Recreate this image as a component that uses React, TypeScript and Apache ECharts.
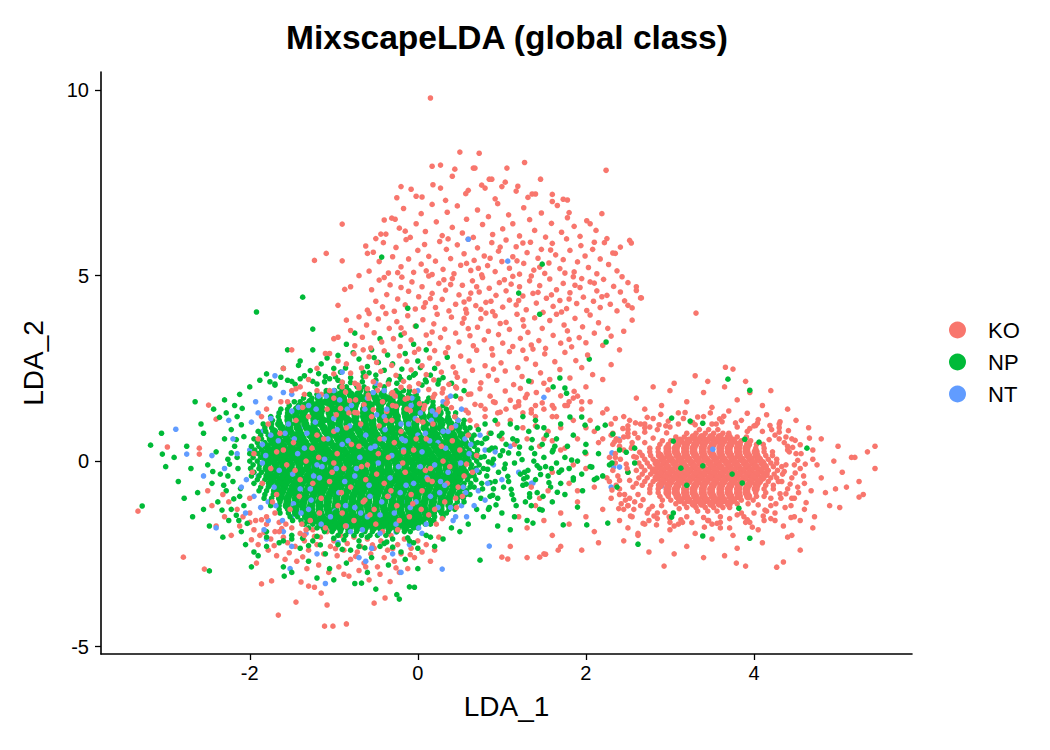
import React, { useEffect, useRef } from "react";
import * as echarts from "echarts";

// All coordinates are in hundredths of LDA units.
// Dense cores are listed as rows: [y, x1, x2, ...]
const NP_CORE_ROWS = [
  [200,-93,-85,-72,-64,-51,-40],
  [190,-109,-99,-90,-82,-68,-61,-49,-40,-26,-17,-10],
  [180,-129,-120,-108,-99,-92,-80,-71,-60,-53,-42,-30,-23,-11,-2],
  [170,-136,-126,-118,-105,-96,-89,-78,-67,-61,-50,-38,-31,-19,-8,0,13],
  [160,-147,-140,-128,-117,-109,-100,-88,-79,-73,-60,-49,-42,-31,-20,-11,-1,11,18],
  [150,-153,-142,-134,-122,-116,-104,-93,-86,-75,-63,-56,-45,-33,-26,-14,-3,6,18,30],
  [140,-163,-155,-144,-133,-126,-114,-104,-97,-85,-76,-64,-57,-45,-34,-27,-15,-3,5,17,26,34],
  [130,-165,-155,-145,-136,-124,-116,-105,-94,-87,-75,-64,-57,-45,-35,-27,-15,-4,4,17,26,36,45],
  [120,-175,-166,-154,-145,-136,-124,-116,-104,-93,-86,-74,-64,-56,-44,-35,-25,-14,-6,6,15,24,36,44],
  [110,-173,-165,-154,-143,-135,-123,-113,-105,-93,-83,-75,-63,-54,-44,-33,-25,-13,-3,6,18,27,36,48,55],
  [100,-184,-174,-165,-153,-144,-134,-123,-115,-103,-94,-84,-72,-63,-54,-42,-33,-22,-12,-3,9,18,28,39,47,54],
  [90,-182,-174,-162,-153,-143,-132,-124,-112,-103,-93,-82,-74,-62,-53,-43,-32,-24,-12,-3,8,19,27,39,48,56,62],
  [80,-190,-181,-171,-160,-152,-141,-130,-121,-110,-101,-90,-81,-70,-60,-52,-40,-31,-21,-10,-1,11,19,30,40,49,58],
  [70,-187,-178,-169,-158,-148,-139,-128,-119,-107,-98,-88,-79,-68,-57,-49,-38,-28,-18,-7,1,13,22,33,42,52,61,67],
  [60,-195,-186,-175,-166,-156,-145,-137,-125,-116,-106,-95,-87,-76,-66,-56,-46,-35,-27,-15,-6,4,15,24,35,44,54,64],
  [50,-191,-182,-173,-163,-152,-143,-134,-123,-113,-104,-93,-84,-73,-64,-53,-44,-33,-24,-13,-4,7,16,27,36,47,56,65,71],
  [40,-198,-189,-180,-169,-160,-150,-140,-131,-120,-111,-100,-91,-80,-71,-60,-51,-40,-31,-20,-11,0,9,20,29,40,49,58,67],
  [30,-194,-186,-176,-167,-156,-147,-137,-128,-117,-108,-97,-88,-78,-68,-57,-48,-37,-28,-18,-8,3,12,22,32,43,52,61,71],
  [20,-200,-190,-182,-171,-163,-153,-143,-134,-124,-114,-104,-95,-85,-74,-64,-55,-44,-35,-25,-14,-4,5,15,26,35,45,55,64,70],
  [10,-196,-187,-178,-168,-159,-149,-140,-130,-120,-111,-101,-91,-81,-72,-61,-52,-42,-32,-22,-12,-2,8,18,28,38,48,58,67,75],
  [0,-200,-191,-181,-172,-162,-153,-143,-134,-124,-115,-105,-95,-85,-76,-66,-56,-46,-37,-27,-17,-8,2,12,22,32,42,52,61,70],
  [-10,-196,-188,-179,-169,-160,-151,-141,-131,-122,-112,-102,-93,-83,-73,-64,-54,-44,-35,-25,-15,-5,5,15,25,34,44,54,64,73],
  [-20,-199,-189,-180,-170,-161,-151,-141,-132,-122,-112,-103,-93,-83,-74,-64,-54,-45,-35,-25,-15,-6,4,14,24,34,44,53,63,69],
  [-30,-195,-186,-177,-167,-158,-148,-139,-129,-119,-110,-100,-91,-81,-71,-62,-52,-42,-33,-23,-13,-3,6,16,26,36,46,56,66,73],
  [-40,-198,-189,-179,-170,-160,-151,-141,-131,-122,-112,-103,-93,-83,-74,-64,-54,-45,-35,-25,-16,-6,4,14,23,33,43,52,62,67],
  [-50,-191,-182,-173,-163,-154,-144,-135,-125,-115,-106,-96,-87,-77,-67,-58,-48,-39,-29,-19,-10,0,10,20,29,39,49,59,69],
  [-60,-195,-185,-176,-166,-157,-147,-138,-128,-118,-109,-99,-90,-80,-70,-61,-51,-42,-32,-22,-13,-3,7,16,26,36,46,55,63],
  [-70,-187,-178,-168,-159,-149,-140,-130,-120,-111,-101,-92,-82,-72,-63,-53,-44,-34,-24,-15,-5,4,14,24,33,43,53,62,67],
  [-80,-189,-180,-170,-161,-151,-142,-132,-122,-113,-103,-94,-84,-74,-65,-55,-46,-36,-26,-17,-7,2,12,22,31,41,50,58],
  [-90,-182,-172,-163,-153,-144,-134,-124,-115,-105,-96,-86,-76,-67,-57,-48,-38,-28,-19,-9,0,10,20,29,39,49,57,62],
  [-100,-183,-174,-164,-155,-145,-135,-126,-116,-107,-97,-87,-78,-68,-59,-49,-39,-30,-20,-11,-1,9,18,28,37,47,54],
  [-110,-174,-164,-155,-145,-136,-126,-117,-107,-97,-88,-78,-69,-59,-49,-40,-30,-21,-11,-1,8,18,28,37,47,55],
  [-120,-175,-165,-156,-146,-137,-127,-117,-108,-98,-89,-79,-69,-60,-50,-41,-31,-21,-12,-2,7,17,27,36,44],
  [-130,-165,-155,-146,-136,-127,-117,-107,-98,-88,-79,-69,-59,-50,-40,-31,-21,-11,-2,8,17,27,37,44],
  [-140,-164,-154,-145,-135,-126,-116,-106,-97,-87,-78,-68,-58,-49,-39,-30,-20,-10,-1,9,18,28,34],
  [-150,-152,-143,-133,-124,-114,-104,-95,-85,-76,-66,-56,-47,-37,-28,-18,-8,1,11,20,30],
  [-160,-149,-139,-130,-120,-110,-101,-91,-82,-72,-62,-53,-43,-34,-24,-14,-5,5,15,19],
  [-170,-135,-125,-116,-106,-97,-87,-77,-68,-58,-49,-39,-30,-20,-10,-1,9,15],
  [-180,-130,-120,-111,-101,-92,-82,-72,-63,-53,-44,-34,-25,-15,-5,0],
  [-190,-111,-102,-92,-83,-73,-63,-54,-44,-35,-25,-16,-9],
  [-200,-95,-86,-76,-67,-57,-48,-38],
];

// Other NP cells as [x, y, x, y, ...]
const NP_PTS = [
  // left halo
  -215,120,-222,85,-230,60,-218,40,-240,25,-226,5,-250,-10,-214,-20,-235,-35,-220,-55,-245,-60,-228,-80,-212,-95,-238,-110,
  -222,-130,-255,-130,-262,-85,-270,-20,-275,40,-258,100,-243,140,-230,165,-212,180,-268,-150,-248,-175,-225,-160,-210,-190,
  -285,-55,-290,10,-300,-15,-255,75,-278,-100,-232,-205,-205,-225,-195,-245,-265,160,-305,75,-328,-121,-318,43,-304,19,
  -209,142,-207,66,-211,-74,-216,-146,-203,-168,-236,118,-244,-28,-233,-132,
  -226,-40,-222,22,-219,-102,-216,58,-213,-160,-210,98,-228,130,-231,-65,-224,-8,-218,150,-207,-120,-215,10,
  // top halo
  -170,205,-150,215,-135,230,-120,208,-105,222,-92,240,-80,212,-65,228,-50,218,-40,245,-25,210,-10,225,5,205,15,232,
  -160,250,-140,270,-115,262,-95,285,-70,275,-55,300,-30,262,-15,290,0,270,20,250,30,225,-180,235,-125,300,-85,315,
  -45,330,-5,315,-200,200,-60,255,-100,250,10,300,40,210,35,280,55,190,45,175,-155,300,-75,345,-20,340,
  -176,214,-163,226,-146,207,-128,244,-111,214,-98,227,-86,251,-73,205,-58,238,-47,266,-34,219,-19,248,-3,236,
  9,219,24,208,-142,258,-118,236,-77,292,-36,286,-66,214,3,252,-108,278,-52,279,-188,218,-90,212,-22,228,
  -170,208,-140,222,-110,228,-80,225,-50,232,-20,220,10,214,-155,218,-125,215,-95,218,-65,240,-35,213,-5,232,25,218,
  -192,402,-137,442,-125,356,-12,412,-2,364,-43,550,120,453,145,396,148,531,204,275,224,321,
  // bottom halo
  -180,-205,-165,-220,-150,-200,-140,-235,-125,-215,-110,-250,-95,-225,-80,-240,-70,-215,-55,-260,-45,-230,-30,-210,
  -20,-245,-5,-220,10,-200,20,-230,-130,-270,-105,-290,-85,-275,-60,-300,-35,-280,-15,-265,-190,-255,-160,-285,
  0,-290,-120,-315,-75,-330,-25,-360,-22,-372,-50,-345,-100,-320,-150,-300,30,-210,-180,-230,-159,-310,-198,-285,
  -248,-296,74,-267,-10,-339,-67,-329,-4,-340,-137,-208,-116,-226,-88,-212,-63,-234,-37,-218,-12,-207,
  -180,-190,-160,-215,-130,-228,-100,-208,-70,-230,-40,-222,-10,-215,15,-205,-150,-210,-120,-203,-90,-238,-60,-205,
  -30,-232,0,-235,
  // right extension
  80,60,85,30,88,-5,82,-40,90,-75,95,-100,100,75,105,45,98,15,103,-20,108,-55,112,-90,118,55,120,20,115,-5,
  122,-35,125,-65,128,-110,132,80,135,35,138,0,131,-25,140,-50,142,-85,148,45,150,10,152,-15,155,-40,158,-70,
  145,-130,160,25,165,-5,168,-30,170,-60,175,10,180,-20,185,-45,190,0,195,-35,205,-15,210,-50,215,20,220,-40,
  228,-10,92,110,110,100,125,120,140,110,150,90,165,60,178,40,75,-100,85,-125,100,-140,115,-150,130,-160,70,-130,
  78,-150,60,-170,50,-190,40,-180,95,-175,110,-185,240,30,250,-30,258,-5,200,45,185,70,170,100,196,-80,175,-90,160,-110,
  72,85,76,48,79,12,83,-22,86,-58,89,-92,93,-118,97,68,101,28,104,-8,107,-41,111,-76,114,-104,118,90,121,38,124,4,
  127,-30,129,-62,133,-88,136,58,139,20,142,-12,146,-36,149,-95,153,70,156,-58,159,-20,163,40,166,-84,84,-2,96,-30,
  108,22,117,-120,92,35,126,-48,102,-70,77,-75,113,60,135,-120,142,92,
  78,-20,82,62,86,-95,88,35,92,-55,80,100,84,-130,90,5,76,-60,87,75,
  175,197,177,183,132,216,161,200,169,224,195,119,199,97,181,119,214,89,223,97,232,73,207,-16,213,-46,231,-5,
  237,-70,226,-167,201,-172,173,-172,190,-124,185,-51,171,-24,183,3,199,24,161,30,145,-19,130,-43,133,-97,148,-132,137,-167,
  // inside the KO cluster on the right
  369,221,395,191,302,116,324,108,339,102,389,59,406,51,463,35,304,54,313,-19,339,-13,374,-35,386,-59,320,-65,
  382,-127,304,-140,302,-151,339,-202,395,-208,262,-224,258,35,248,24,
];

const KO_CORE_ROWS = [
  [85,335,346,357],
  [75,320,331,342,352,363,370],
  [65,307,317,328,338,349,359,370,380,391],
  [55,291,301,312,322,333,343,354,364,375,385,396],
  [45,288,298,309,319,330,340,351,361,372,382,393,403,411],
  [35,276,286,297,307,318,328,339,349,360,370,381,391,402,412],
  [25,276,286,297,307,318,328,339,349,360,370,381,391,402,412,422],
  [15,267,277,288,298,309,319,330,340,351,361,372,382,393,403,414,422],
  [5,270,280,291,301,312,322,333,343,354,364,375,385,396,406,417,427],
  [-5,263,273,284,294,305,315,326,336,347,357,368,378,389,399,410,420,427],
  [-15,266,276,287,297,308,318,329,339,350,360,371,381,392,402,413,423,433],
  [-25,260,270,281,291,302,312,323,333,344,354,365,375,386,396,407,417,428],
  [-35,267,277,288,298,309,319,330,340,351,361,372,382,393,403,414,424,434],
  [-45,263,273,284,294,305,315,326,336,347,357,368,378,389,399,410,420,427],
  [-55,270,280,291,301,312,322,333,343,354,364,375,385,396,406,417,429],
  [-65,267,277,288,298,309,319,330,340,351,361,372,382,393,403,414,423],
  [-75,276,286,297,307,318,328,339,349,360,370,381,391,402,412,423],
  [-85,276,286,297,307,318,328,339,349,360,370,381,391,402,414],
  [-95,288,298,309,319,330,340,351,361,372,382,393,403,412],
  [-105,291,301,312,322,333,343,354,364,375,385,399],
  [-115,307,317,328,338,349,359,370,380,393],
  [-125,320,331,342,352,363,371],
  [-135,333,345,356],
];

const KO_PTS = [
  // lower edge of the left blob
  -215,-130,-208,-150,-200,-165,-212,-175,-195,-185,-188,-200,-180,-170,-175,-210,-170,-190,-165,-165,-160,-205,
  -155,-220,-150,-180,-146,-230,-140,-195,-135,-215,-130,-240,-125,-185,-120,-225,-116,-205,-112,-250,-108,-190,
  -104,-230,-100,-215,-96,-255,-92,-200,-88,-240,-84,-222,-80,-265,-76,-205,-72,-245,-68,-230,-64,-275,-60,-210,
  -56,-250,-52,-235,-48,-285,-44,-215,-40,-260,-36,-240,-32,-200,-28,-270,-24,-225,-20,-250,-16,-210,-12,-290,
  -8,-235,-4,-260,0,-215,5,-245,10,-225,15,-270,20,-240,25,-205,-190,-225,-178,-240,-168,-255,-158,-265,-144,-270,
  -132,-290,-118,-280,-106,-300,-94,-285,-82,-310,-70,-295,-58,-320,-45,-305,-33,-325,-22,-300,-200,-140,-225,-110,
  -230,-150,-240,-175,-222,-200,-232,-90,-245,-120,-250,-80,-183,-192,-171,-228,-153,-247,-137,-258,-123,-203,
  -98,-236,-74,-257,-54,-226,-30,-236,-9,-252,-186,-158,-198,-212,-162,-182,
  // outliers around the left blob
  -333,-135,-298,38,-260,19,-260,35,-249,151,-240,113,-279,-259,-254,-291,-174,-323,-145,-380,-108,-388,-166,-415,
  -111,-445,-101,-445,-85,-439,-52,-383,-39,-369,-115,-356,-123,-340,-130,-337,-139,-326,-186,-331,-192,-275,
  -88,-305,-62,-285,-26,-288,100,-259,107,-264,145,-259,152,-251,167,-240,-87,463,-95,334,
  // upper cluster
  5,712,18,745,33,703,41,768,57,721,66,790,80,736,92,707,104,752,117,728,131,711,146,760,160,719,178,704,-8,733,
  15,979,50,833,73,830,127,805,106,790,88,760,224,784,17,795,27,798,44,787,68,790,
  -38,612,-31,655,-22,628,-17,681,-9,603,-2,640,4,667,9,619,17,692,22,645,29,608,35,671,41,630,47,688,53,615,
  58,652,66,603,71,677,77,638,84,659,89,611,95,694,101,626,108,664,113,640,121,607,126,683,133,651,139,622,
  147,669,152,604,159,641,166,689,171,617,178,656,186,633,193,606,201,648,212,622,219,667,
  -58,512,-53,563,-46,538,-41,589,-35,507,-30,551,-26,576,-20,524,-14,597,-11,545,-5,509,0,568,4,531,8,584,
  13,552,17,503,21,539,26,592,30,517,34,571,39,546,43,505,47,583,51,528,55,559,60,598,63,514,67,541,71,575,
  76,502,79,553,83,527,88,589,92,511,96,566,100,538,105,596,109,520,113,551,117,578,121,504,126,533,130,562,
  134,590,138,515,143,547,147,571,151,506,156,534,160,587,164,556,169,519,173,543,177,599,181,568,186,510,
  190,537,194,581,199,553,203,522,208,571,213,505,217,545,222,589,227,530,232,561,237,513,241,577,-62,580,
  10,513,58,533,86,547,125,588,145,523,175,507,36,599,72,520,118,540,158,569,210,590,-24,508,98,577,
  -60,407,-55,462,-50,431,-46,488,-42,416,-37,449,-33,475,-28,404,-24,437,-19,496,-15,421,-11,458,-7,483,
  -3,410,1,443,5,470,9,427,13,499,17,452,21,414,25,479,29,436,33,461,37,405,41,492,45,423,49,448,53,474,
  57,409,61,437,65,486,69,419,73,456,77,495,81,428,85,466,89,403,93,447,97,481,101,415,105,459,109,434,
  113,498,117,421,121,470,125,445,129,408,133,486,137,452,141,426,145,473,149,401,153,439,157,491,161,417,
  165,462,169,433,173,479,177,411,181,454,185,497,189,425,193,468,197,442,201,406,205,483,209,431,213,459,
  217,414,221,490,225,447,229,423,233,471,237,405,241,456,246,432,250,481,255,413,260,460,266,440,-20,468,
  7,415,39,476,63,453,87,431,111,477,143,455,171,402,195,492,219,443,31,489,75,409,135,499,159,448,187,474,
  103,489,55,429,-40,495,243,497,120,433,180,437,70,470,15,438,
  -80,352,-75,311,-70,389,-66,334,-61,367,-56,305,-52,346,-47,383,-43,321,-38,398,-34,358,-29,330,-25,376,
  -21,309,-16,345,-12,392,-8,327,-3,364,1,302,6,381,10,340,14,317,19,370,23,396,27,333,32,356,36,306,40,388,
  45,345,49,321,53,372,58,399,62,338,66,311,71,361,75,384,79,327,84,350,88,303,92,392,96,341,101,318,105,374,
  109,355,113,309,118,396,122,331,126,364,131,347,135,313,139,386,144,325,148,358,152,304,157,379,161,339,
  165,396,170,318,174,367,178,351,183,308,187,385,192,333,196,362,200,319,205,394,210,345,215,373,220,312,
  226,358,230,337,-58,398,-20,359,17,348,55,385,98,371,137,302,180,328,81,399,125,381,60,357,
  -90,213,-85,262,-80,237,-76,289,-71,205,-67,251,-62,228,-58,281,-53,214,-49,266,-44,242,-40,297,-35,208,
  -31,258,-26,231,-22,284,-17,215,-13,269,-8,246,-4,293,1,209,5,257,10,233,14,278,19,219,24,263,28,240,
  33,292,37,207,42,254,47,226,51,283,56,216,61,270,65,245,70,299,75,211,80,257,84,230,89,286,94,218,99,265,
  104,243,109,295,114,206,119,252,124,228,129,276,135,214,140,261,146,238,151,289,157,220,163,268,169,247,
  175,293,181,224,188,271,195,252,202,286,-95,270,-100,235,-105,290,-65,300,20,298,90,248,150,210,208,233,
  45,238,125,299,
  -92,142,-86,186,-81,163,-75,131,-70,197,-64,152,-59,178,-53,139,-48,191,-42,160,-37,134,-31,182,-26,148,
  -20,199,-15,167,-9,136,-4,188,2,155,7,141,13,193,18,172,24,133,29,184,35,159,40,144,46,197,51,168,57,137,
  63,181,68,153,74,195,80,140,86,175,92,158,98,132,104,189,110,164,116,146,122,196,128,171,135,139,141,185,
  148,157,155,192,162,143,170,176,178,150,186,188,195,160,-100,170,
  // halo of the upper cluster
  -90,540,-80,470,-95,420,-85,380,-100,330,-110,290,-120,250,-130,220,-140,200,-115,180,250,420,255,380,245,350,
  240,300,230,260,220,220,200,200,185,170,160,150,140,120,210,480,260,470,265,440,235,560,225,600,205,640,180,670,
  160,700,140,720,-25,710,-40,650,-50,600,-60,560,-70,500,120,160,95,130,130,180,-20,740,60,730,100,740,85,760,
  -150,300,-160,250,-145,195,-90,639,-109,560,-123,541,-44,612,-27,652,-15,620,-2,714,27,736,76,744,119,741,
  136,720,173,706,254,588,331,399,252,595,
  // right of the left blob
  60,180,75,150,90,160,105,140,120,150,135,130,150,140,165,120,80,120,95,100,110,110,125,90,140,95,155,80,170,90,
  60,130,70,95,85,75,100,60,115,45,130,60,145,40,160,55,175,35,190,60,200,20,210,80,185,110,195,140,180,160,
  205,110,220,60,230,100,240,40,250,75,225,140,245,120,260,10,270,50,35,170,45,200,20,180,30,195,-10,200,-30,185,
  -45,205,-60,195,-75,210,-90,200,-105,190,-120,190,-135,180,
  // between the two lower clusters
  120,-150,130,-180,140,-120,150,-160,160,-200,170,-140,180,-170,190,-110,200,-150,210,-190,220,-130,230,-100,
  240,-160,250,-120,170,-230,195,-240,215,-220,150,-250,130,-260,110,-230,125,130,140,150,160,120,175,150,190,175,
  205,160,220,130,235,115,250,95,180,-60,190,-80,200,-20,210,-70,225,-45,235,10,240,-75,250,-30,255,40,230,70,
  215,50,200,90,185,-10,170,30,160,-30,150,60,135,-70,145,-100,155,-80,
  // ring and halo of the right cluster
  235,20,238,-40,240,-90,236,60,250,-120,258,75,270,90,285,-140,300,-155,320,-150,340,-152,360,-150,380,-145,
  400,-140,420,-120,432,-100,440,-75,445,-45,448,-10,442,25,436,50,425,70,410,80,395,88,380,92,300,92,285,85,
  270,78,255,50,245,30,275,-130,265,-120,415,-135,440,30,430,60,310,100,330,98,350,100,260,-60,262,-90,444,-120,
  448,-150,425,-160,275,-160,310,-170,350,-170,395,-165,248,-8,252,-52,257,12,280,62,296,76,392,80,418,58,
  433,-55,436,-28,431,-88,405,-118,290,-120,268,-104,
  232,-25,236,-65,241,5,247,-105,254,35,262,63,273,-140,287,98,299,-150,313,-158,327,104,346,-160,362,106,371,-155,
  388,-150,402,96,413,-132,426,-115,438,-88,443,-62,449,-32,452,2,446,37,438,65,421,85,404,102,392,-158,232,45,
  228,-55,257,-130,281,-148,359,114,316,115,453,-85,455,44,430,78,276,92,242,-115,411,-148,461,-8,
  228,10,231,-78,234,52,239,-128,244,88,249,-20,253,-148,256,-70,259,103,264,24,268,-168,273,118,279,-122,284,-172,
  289,126,294,-138,298,108,305,-175,311,-128,318,131,326,-166,333,119,341,-178,348,130,356,-168,364,121,371,-180,
  378,103,385,-140,392,129,398,-178,405,112,412,-160,419,96,425,-140,431,106,437,-125,441,82,445,-100,449,56,
  452,-70,456,20,459,-40,462,-112,466,62,438,-10,444,-152,235,-5,240,-52,232,75,246,-90,258,-110,300,-165,
  360,-165,420,-100,440,40,430,90,270,100,250,66,470,5,468,-80,
  265,100,280,115,295,95,310,130,325,105,340,120,355,100,370,135,385,110,400,95,415,125,430,100,290,150,320,160,
  350,145,380,165,410,150,270,140,300,190,340,185,365,200,395,185,375,248,366,253,390,215,330,230,260,170,440,140,
  450,110,305,210,420,190,280,200,345,215,
  445,60,450,20,455,-20,460,-60,448,-100,465,90,470,30,475,-10,480,-45,485,-85,490,-120,472,-150,495,0,500,40,
  505,-30,510,-70,460,-130,520,10,525,-55,530,-90,544,40,544,-20,525,-97,516,10,502,-125,480,60,470,-180,455,-160,
  445,-200,497,-75,535,25,
  255,-150,270,-170,285,-155,300,-185,315,-165,330,-195,345,-160,360,-180,375,-200,390,-165,405,-185,420,-155,
  435,-175,262,-200,290,-215,320,-230,350,-210,380,-235,410,-220,440,-205,293,-283,379,-275,390,-283,427,-286,
  435,-272,275,-245,245,-215,305,-250,340,-260,365,-255,455,-240,262,-195,250,-180,245,-130,252,-100,250,85,
  245,65,240,55,252,110,
  // scattered through the left blob
  -190,60,-175,-20,-168,-90,-160,30,-152,-130,-145,110,-140,-50,-133,0,-128,-160,-120,70,-115,-100,-108,140,-102,-30,
  -96,20,-90,-140,-85,90,-80,-70,-74,165,-70,40,-65,-110,-60,-10,-55,120,-50,-170,-45,60,-40,-60,-35,10,-30,150,
  -25,-120,-20,80,-15,-30,-10,-150,-5,30,0,110,5,-80,10,60,15,-20,20,-130,25,140,30,0,35,-60,40,90,45,-100,50,30,
  55,-40,60,70,-185,-60,-178,100,-170,-140,-163,160,-156,-10,-148,50,-138,-170,-130,120,-125,-60,-118,10,-110,-180,
  -100,80,-95,-120,-88,-20,-82,130,-76,-160,-68,100,-62,-50,-58,170,-52,-130,-47,20,-42,-190,-38,110,-32,-80,-28,50,
  -22,-160,-18,-5,-12,170,-8,-90,-2,60,4,-130,8,150,12,-50,18,100,22,-170,28,40,32,-110,38,-15,44,120,48,-70,65,-30,
  70,15,-200,-100,-195,20,-180,140,-165,-190,-150,190,-135,-200,
  -197,-30,-186,120,-173,-110,-164,75,-157,-170,-146,-25,-137,145,-126,35,-117,-140,-105,-55,-97,125,-86,-175,
  -79,45,-67,-15,-57,-145,-46,95,-36,-95,-27,175,-17,25,-6,-115,6,105,17,-55,29,-155,41,55,53,-95,62,110,
  -180,-150,-155,160,-141,-95,-112,60,-91,-85,-72,130,-49,-35,-24,-185,-13,140,9,-25,34,155,-193,-160,-168,25,
  -133,-185,-100,-5,-63,-105,-31,110,13,-145,46,-125,58,-8,
];

const NT_PTS = [
  -200,30,-190,-40,-185,80,-178,-110,-172,10,-165,130,-160,-60,-155,50,-150,-150,-145,0,-140,90,-136,-90,-130,150,
  -126,-20,-120,40,-116,-130,-110,110,-106,-60,-100,10,-96,-170,-92,70,-88,-30,-84,140,-80,-100,-76,30,-72,-150,
  -68,90,-64,-50,-60,170,-56,0,-52,-120,-48,60,-44,-80,-40,120,-36,-20,-32,-160,-28,40,-24,-60,-20,100,-16,-110,
  -12,10,-8,150,-4,-40,0,70,4,-140,8,20,12,-80,16,110,20,-30,24,50,28,-100,32,0,36,80,40,-60,44,30,48,-20,52,-120,
  56,60,60,-40,66,10,72,-80,80,30,90,-10,100,-50,110,40,120,-30,135,-60,-210,-70,-220,60,-230,-20,-245,15,-255,-40,
  -225,110,-288,86,-275,19,-240,-180,-180,-210,-150,-230,-120,-250,-95,-220,-70,-260,-55,-235,-30,-250,-10,-225,
  -62,-270,-110,-330,-152,-290,85,-229,29,-291,-26,-191,-82,-160,-100,190,-50,210,-150,180,-170,230,-90,240,0,190,
  60,598,107,539,137,-59,150,172,233,-16,239,59,231,22,240,-16,290,-67,230,-70,-20,-300,45,-150,5,-195,351,32,
  -195,-95,-185,45,-175,115,-165,-25,-158,75,-148,-115,-142,145,-135,35,-128,-75,-122,105,-114,-15,-107,60,-99,-135,
  -93,165,-87,-55,-81,95,-75,-125,-69,10,-63,140,-57,-95,-51,40,-45,-145,-39,85,-33,-45,-27,175,-21,-85,-15,55,
  -9,-125,-3,115,3,-15,9,75,15,-95,21,125,27,-55,33,35,39,-125,45,95,51,-5,57,-85,63,45,-190,130,-178,-160,
  -160,-190,-118,175,-80,-190,-40,190,10,-170,30,160,-205,-140,-215,20,
  -198,105,-187,-125,-181,15,-176,170,-171,-70,-166,55,-161,-160,-154,100,-149,-35,-143,20,-139,-140,-132,75,
  -127,-105,-121,140,-117,-45,-111,5,-104,-150,-100,115,-94,-85,-90,45,-85,-175,-79,150,-73,-20,-68,-140,-62,70,
  -58,-65,-53,185,-47,-5,-43,-110,-37,140,-31,15,-26,-170,-19,60,-14,-65,-7,170,-2,-110,5,25,11,-45,17,135,
  24,-125,30,80,36,-30,42,-160,48,110,54,-70,61,20,67,-120,74,70,83,-60,92,25,-204,-50,-193,160,-183,-185,
  -169,-120,-147,60,-133,-195,-124,-40,-109,175,-97,-20,-83,55,-66,-185,-49,125,-35,-95,-23,-15,-11,100,1,-180,
  14,55,26,-85,39,175,58,-150,-185,-5,-150,135,-115,-170,-86,-120,-56,35,-28,-140,3,130,32,-65,70,-25,-140,-75,
  -96,85,-60,-150,-17,30,20,-10,-175,70,-120,-10,-75,-40,-40,60,-5,-60,-160,185,-130,-130,-45,-195,52,140,80,-105,
];

const CLASS_NAMES = ["KO", "NP", "NT"];
const CLASS_COLORS = ["#F8766D", "#00BA38", "#619CFF"];
const X_TICKS = [-2, 0, 2, 4];
const Y_TICKS = [-5, 0, 5, 10];

// returns [x, y, isInterior]
function rowsToPairs(rows: number[][]): number[][] {
  const out: number[][] = [];
  rows.forEach((r, ri) => {
    for (let i = 1; i < r.length; i++) {
      const edge = i <= 2 || i >= r.length - 2 || ri <= 1 || ri >= rows.length - 2;
      out.push([r[i] / 100, r[0] / 100, edge ? 0 : 1]);
    }
  });
  return out;
}

function flatToPairs(a: number[]): number[][] {
  const out: number[][] = [];
  for (let i = 0; i + 1 < a.length; i += 2) out.push([a[i] / 100, a[i + 1] / 100, 0]);
  return out;
}

function buildData(): number[][] {
  // [points, class index, share of the drawing order the group is spread over]
  const groups: [number[][], number, number][] = [
    [rowsToPairs(KO_CORE_ROWS), 0, 1],
    [flatToPairs(KO_PTS), 0, 1],
    [rowsToPairs(NP_CORE_ROWS), 1, 0.55],
    [flatToPairs(NP_PTS), 1, 1],
    [flatToPairs(NT_PTS), 2, 1],
  ];
  const items: { key: number; v: number[] }[] = [];
  groups.forEach(([pts, ci, span], gi) => {
    const n = pts.length;
    pts.forEach((p, i) =>
      items.push({ key: ((i + 0.5 + gi * 0.23) / n) * span, v: [p[0], p[1], ci, p[2]] })
    );
  });
  items.sort((a, b) => a.key - b.key);
  return items.map((d) => d.v);
}

export default function App() {
  const ref = useRef<HTMLDivElement>(null);
  useEffect(() => {
    if (!ref.current) return;
    const chart = echarts.init(ref.current, undefined, { renderer: "svg" });
    const font = '"Liberation Sans", Arial, Helvetica, sans-serif';
    const axisCommon = {
      axisLine: { show: true, onZero: false, lineStyle: { color: "#000", width: 1.6 } },
      splitLine: { show: false },
      nameTextStyle: { fontSize: 28, color: "#000", fontFamily: font },
    };
    const tick = { show: true, length: 6, lineStyle: { color: "#000", width: 1.3 } };
    chart.setOption({
      animation: false,
      backgroundColor: "#fff",
      textStyle: { fontFamily: font },
      grid: { left: 93, right: 130, top: 64, bottom: 88, containLabel: false },
      graphic: [
        {
          type: "text",
          x: 499,
          y: 29,
          style: {
            text: "MixscapeLDA (global class)",
            fontSize: 33.5,
            fontWeight: "bold",
            fontFamily: font,
            fill: "#000",
            textAlign: "center",
            textVerticalAlign: "middle",
          },
        },
      ],
      legend: {
        orient: "vertical",
        left: 936,
        top: 306,
        icon: "circle",
        itemWidth: 17,
        itemHeight: 17,
        itemGap: 10,
        data: CLASS_NAMES,
        textStyle: { fontSize: 22, lineHeight: 22, color: "#000", fontFamily: font, padding: [0, 0, 0, 17] },
      },
      xAxis: {
        type: "value",
        min: -3.77,
        max: 5.88,
        name: "LDA_1",
        nameLocation: "middle",
        nameGap: 38,
        ...axisCommon,
        axisTick: { ...tick, customValues: X_TICKS },
        axisLabel: { customValues: X_TICKS, fontSize: 20, color: "#000", margin: 9, fontFamily: font },
      },
      yAxis: {
        type: "value",
        min: -5.2,
        max: 10.49,
        name: "LDA_2",
        nameLocation: "middle",
        nameGap: 54,
        ...axisCommon,
        axisTick: { ...tick, customValues: Y_TICKS },
        axisLabel: { customValues: Y_TICKS, fontSize: 20, color: "#000", margin: 12, fontFamily: font },
      },
      series: [
        ...CLASS_NAMES.map((name, i) => ({
          name,
          type: "scatter",
          data: [],
          itemStyle: { color: CLASS_COLORS[i], opacity: 1 },
        })),
        {
          name: "cells",
          type: "scatter",
          data: buildData(),
          symbolSize: (v: number[]) => (v[3] ? 8.2 : 5.6),
          large: false,
          progressive: 0,
          silent: true,
          itemStyle: {
            opacity: 1,
            color: (p: any) => CLASS_COLORS[p.data[2]],
          },
        },
      ],
    });
    return () => chart.dispose();
  }, []);
  return <div ref={ref} style={{ width: 1034, height: 734 }} />;
}
